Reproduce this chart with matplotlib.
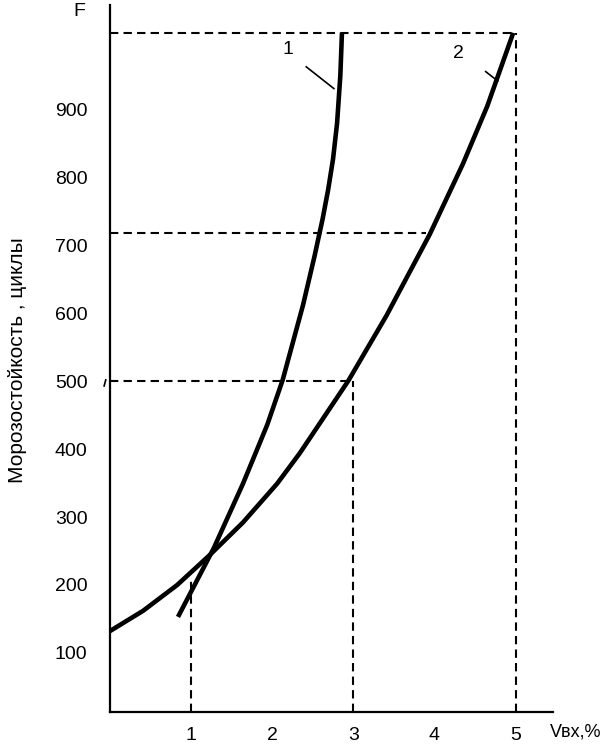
import matplotlib.pyplot as plt

plt.rcParams['font.family'] = ['Liberation Sans', 'DejaVu Sans']

# curve 1 and curve 2 (Vвх %, F cycles)
v1 = [0.84, 1.28, 1.64, 1.94, 2.13, 2.38, 2.52, 2.62, 2.69, 2.75, 2.80, 2.84, 2.86]
f1 = [153, 254, 349, 436, 502, 612, 683, 738, 782, 827, 880, 950, 1013]

v2 = [0.0, 0.41, 0.83, 1.23, 1.64, 2.06, 2.34, 2.94, 3.41, 3.94, 4.35, 4.65, 4.97]
f2 = [132, 162, 200, 244, 292, 349, 394, 501, 597, 716, 820, 905, 1013]

x_ticks = [1, 2, 3, 4, 5]
y_ticks = [100, 200, 300, 400, 500, 600, 700, 800, 900]

# guide lines: (x, f) levels
f_top, v_top = 1013, 5.0
f_mid, v_mid = 719, 3.9
f_low, v_low = 501, 3.0
v_left, f_left = 1.0, 207

x_min, x_max = 0, 5.46
y_min, y_max = 13, 1054

fig = plt.figure(figsize=(6, 7.44), dpi=100)
ax = fig.add_axes([109.8 / 600, 32 / 744, 443.2 / 600, 707 / 744])
ax.set_xlim(x_min, x_max)
ax.set_ylim(y_min, y_max)

for side in ['top', 'right']:
    ax.spines[side].set_visible(False)
for side in ['left', 'bottom']:
    ax.spines[side].set_linewidth(1.6)

ax.set_xticks(x_ticks)
ax.set_yticks(y_ticks)
ax.tick_params(axis='both', length=0, labelsize=14)
ax.tick_params(axis='x', pad=11)
ax.tick_params(axis='y', pad=16)

# dashed guides
dash = dict(color='black', lw=1.5, dashes=(4, 2.5))
ax.plot([0, v_top], [f_top, f_top], **dash)
ax.plot([v_top, v_top], [y_min, f_top], **dash)
ax.plot([0, v_mid], [f_mid, f_mid], **dash)
ax.plot([0, v_low], [f_low, f_low], **dash)
ax.plot([v_low, v_low], [y_min, f_low], **dash)
ax.plot([v_left, v_left], [y_min, f_left], **dash)

# small stray mark near 500
ax.plot([-0.07, -0.05], [493, 502], color='black', lw=1.2, clip_on=False)

# curves
ax.plot(v1, f1, color='black', lw=3.3, solid_capstyle='butt', solid_joinstyle='round')
ax.plot(v2, f2, color='black', lw=3.3, solid_capstyle='butt', solid_joinstyle='round')

# curve labels with leaders
ax.text(2.19, 988, '1', fontsize=14, ha='center', va='center')
ax.plot([2.42, 2.76], [963, 931], color='black', lw=1.2)
ax.text(4.29, 982, '2', fontsize=14, ha='center', va='center')
ax.plot([4.63, 4.78], [956, 942], color='black', lw=1.2)

# axis names
ax.text(-0.38, 1045, 'F', fontsize=14, ha='center', va='center', clip_on=False)
ax.text(5.74, -16, 'Vвх,%', fontsize=13, ha='center', va='center', clip_on=False)
fig.text(18 / 600, 1 - 360 / 744, 'Морозостойкость , циклы', rotation=90,
         fontsize=15, ha='center', va='center')

fig.savefig('out.png', dpi=100)
